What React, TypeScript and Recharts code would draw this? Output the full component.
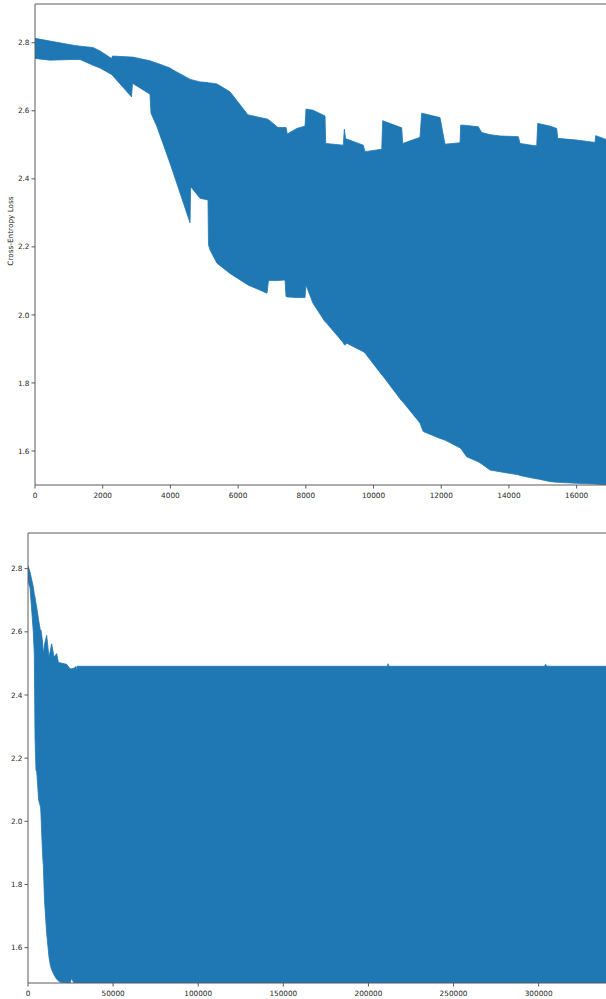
import React from 'react';
import { ComposedChart, Area, XAxis, YAxis, ReferenceLine } from 'recharts';

// Top chart: envelope of oscillating loss (first ~17k steps)
const topSteps = [0, 443, 1123, 1329, 1713, 1920, 2260, 2289, 2851, 2880, 3397, 3427, 3604, 3988, 4077, 4579, 4599, 4874, 5110, 5125, 5170, 5376, 5760, 6292, 6853, 6898, 7178, 7385, 7415, 7453, 7731, 7976, 8005, 8212, 8567, 8587, 9107, 9137, 9172, 9208, 9698, 9748, 10242, 10271, 10833, 10862, 11373, 11423, 11471, 11964, 12111, 12555, 12575, 12752, 13095, 13195, 13441, 13736, 14277, 14327, 14720, 14820, 14850, 15213, 15411, 15441, 16002, 16542, 16563, 16867];
const topUpper = [2.813, 2.805, 2.793, 2.790, 2.786, 2.776, 2.754, 2.761, 2.758, 2.758, 2.747, 2.746, 2.740, 2.726, 2.720, 2.693, 2.692, 2.685, 2.683, 2.682, 2.682, 2.679, 2.656, 2.588, 2.576, 2.574, 2.551, 2.551, 2.551, 2.532, 2.548, 2.555, 2.605, 2.602, 2.585, 2.504, 2.499, 2.546, 2.519, 2.517, 2.499, 2.480, 2.487, 2.571, 2.550, 2.504, 2.522, 2.593, 2.592, 2.580, 2.502, 2.506, 2.558, 2.557, 2.553, 2.536, 2.530, 2.526, 2.524, 2.504, 2.498, 2.497, 2.563, 2.555, 2.548, 2.519, 2.514, 2.507, 2.527, 2.516];
const topLower = [2.754, 2.749, 2.751, 2.751, 2.734, 2.726, 2.707, 2.704, 2.641, 2.681, 2.649, 2.593, 2.553, 2.446, 2.420, 2.271, 2.377, 2.343, 2.338, 2.206, 2.191, 2.152, 2.122, 2.088, 2.064, 2.101, 2.101, 2.103, 2.054, 2.053, 2.051, 2.051, 2.088, 2.034, 1.980, 1.979, 1.918, 1.912, 1.912, 1.917, 1.892, 1.888, 1.824, 1.821, 1.747, 1.745, 1.682, 1.668, 1.657, 1.637, 1.632, 1.609, 1.608, 1.583, 1.568, 1.562, 1.544, 1.539, 1.530, 1.528, 1.520, 1.518, 1.518, 1.510, 1.508, 1.508, 1.505, 1.503, 1.503, 1.500];

// Bottom chart: envelope of oscillating loss (full run)
const botSteps = [0, 1175, 3114, 3701, 4113, 4700, 5111, 6286, 7403, 7638, 8519, 9009, 9694, 10967, 12338, 13101, 13904, 15275, 16842, 17821, 18741, 22736, 24675, 25556, 27025, 28200, 28396, 28788, 211210, 211500, 212090, 303440, 304030, 304900, 339575];
const botUpper = [2.81, 2.79, 2.742, 2.72, 2.71, 2.69, 2.678, 2.636, 2.60, 2.605, 2.57, 2.53, 2.56, 2.589, 2.52, 2.54, 2.562, 2.52, 2.531, 2.504, 2.502, 2.497, 2.483, 2.483, 2.485, 2.49, 2.47, 2.491, 2.491, 2.499, 2.491, 2.491, 2.497, 2.491, 2.491];
const botLower = [2.76, 2.74, 2.60, 2.53, 2.267, 2.16, 2.16, 2.066, 2.045, 2.02, 1.898, 1.86, 1.75, 1.645, 1.57, 1.544, 1.53, 1.514, 1.50, 1.495, 1.491, 1.488, 1.488, 1.502, 1.488, 1.488, 1.488, 1.488, 1.488, 1.488, 1.488, 1.488, 1.488, 1.488, 1.488];

const topXTicks = [0, 2000, 4000, 6000, 8000, 10000, 12000, 14000, 16000];
const botXTicks = [0, 50000, 100000, 150000, 200000, 250000, 300000];
const yTicks = [1.6, 1.8, 2.0, 2.2, 2.4, 2.6, 2.8];
const yLabel = 'Cross-Entropy Loss';

const topData = topSteps.map((s, i) => ({ step: s, lo: topLower[i], hi: topUpper[i] }));
const botData = botSteps.map((s, i) => ({ step: s, lo: botLower[i], hi: botUpper[i] }));

const BLUE = '#1f77b4';
const SPINE = '#5a5a5a';
const tickStyle = { fontSize: 7.3, fill: '#262626', fontFamily: 'DejaVu Sans' };

const YLabelText = () => (
  <text
    x={10}
    y={231}
    transform="rotate(-90 10 231)"
    textAnchor="middle"
    dominantBaseline="central"
    style={{ fontSize: 7.3, fill: '#262626', fontFamily: 'DejaVu Sans' }}
  >
    {yLabel}
  </text>
);

export default function App() {
  return (
    <div style={{ position: 'absolute', left: 0, top: 0, width: 606, height: 999, background: '#fff', overflow: 'hidden' }}>
      <div style={{ position: 'absolute', left: 0, top: 0 }}>
        <ComposedChart width={606} height={520} data={topData} margin={{ top: 4, right: 0, left: 0, bottom: 0 }}>
          <XAxis
            dataKey="step"
            type="number"
            domain={[0, 16867]}
            allowDataOverflow
            ticks={topXTicks}
            height={35}
            tick={tickStyle}
            tickSize={3.5}
            tickMargin={4.5}
            stroke={SPINE}
            interval={0}
          />
          <YAxis
            type="number"
            domain={[1.5, 2.914]}
            allowDataOverflow
            ticks={yTicks}
            width={35}
            tick={tickStyle}
            tickSize={3.5}
            tickMargin={2}
            stroke={SPINE}
            interval={0}
            tickFormatter={(v: number) => v.toFixed(1)}
            label={<YLabelText />}
          />
          <Area
            type="linear"
            dataKey={(d: any) => [d.lo, d.hi]}
            fill={BLUE}
            fillOpacity={1}
            stroke={BLUE}
            strokeWidth={0.8}
            isAnimationActive={false}
            dot={false}
            activeDot={false}
          />
          <ReferenceLine y={2.914} stroke={SPINE} strokeWidth={1} />
        </ComposedChart>
      </div>
      <div style={{ position: 'absolute', left: 0, top: 529 }}>
        <ComposedChart width={606} height={489} data={botData} margin={{ top: 4, right: 0, left: 0, bottom: 0 }}>
          <XAxis
            dataKey="step"
            type="number"
            domain={[0, 339575]}
            allowDataOverflow
            ticks={botXTicks}
            height={35}
            tick={tickStyle}
            tickSize={3.5}
            tickMargin={4}
            stroke={SPINE}
            interval={0}
          />
          <YAxis
            type="number"
            domain={[1.488, 2.913]}
            allowDataOverflow
            ticks={yTicks}
            width={28}
            tick={tickStyle}
            tickSize={3.5}
            tickMargin={2}
            stroke={SPINE}
            interval={0}
            tickFormatter={(v: number) => v.toFixed(1)}
          />
          <Area
            type="linear"
            dataKey={(d: any) => [d.lo, d.hi]}
            fill={BLUE}
            fillOpacity={1}
            stroke={BLUE}
            strokeWidth={0.8}
            isAnimationActive={false}
            dot={false}
            activeDot={false}
          />
          <ReferenceLine y={2.913} stroke={SPINE} strokeWidth={1} />
        </ComposedChart>
      </div>
    </div>
  );
}
